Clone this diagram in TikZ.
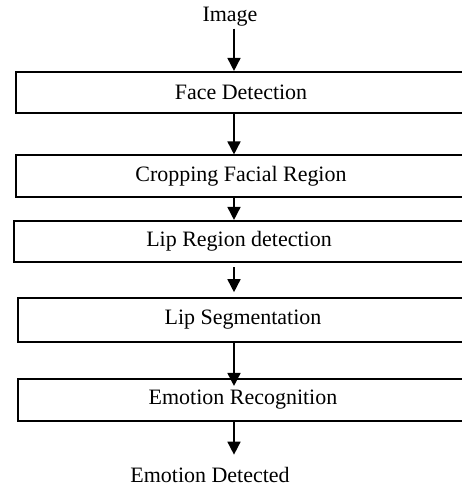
\documentclass[tikz,border=0pt]{standalone}
\usepackage{fontspec}
\setmainfont{Liberation Serif}
\usetikzlibrary{arrows.meta}

\begin{document}
\begin{tikzpicture}[
    stage/.style={draw, rectangle, line width=0.9pt, minimum width=9cm, minimum height=0.83cm, inner sep=0pt, font=\fontsize{12.5}{15}\selectfont},
    label/.style={inner sep=1pt, font=\fontsize{12.5}{15}\selectfont},
    flow/.style={-{Triangle[width=0.26cm, length=0.26cm]}, line width=0.9pt}
  ]

  % Frame of the picture
  \useasboundingbox (0,0) rectangle (9.24,9.72);
  \clip (0,0) rectangle (9.24,9.72);

  % Input and output texts
  \node[label] (image) at (4.60,9.38) {Image};
  \node[label] (detected) at (4.20,0.23) {Emotion Detected};

  % Processing stages
  \node[stage] (face) at (4.82,7.87) {Face Detection};
  \node[stage] (crop) at (4.82,6.20) {Cropping Facial Region};
  \node[stage] (lipregion) at (4.78,4.89) {Lip Region detection};
  \node[stage, minimum height=0.88cm] (lipseg) at (4.86,3.32) {Lip Segmentation};
  \node[stage] (recog) at (4.86,1.72) {Emotion Recognition};

  % Arrows down the column
  \coordinate (axis) at (4.68,0);
  \draw[flow] (image.south -| axis) -- (face.north -| axis);
  \draw[flow] (face.south -| axis) -- (crop.north -| axis);
  \draw[flow] (crop.south -| axis) -- (lipregion.north -| axis);
  \draw[flow, shorten <=0.08cm, shorten >=0.1cm] (lipregion.south -| axis) -- (lipseg.north -| axis);
  \draw[flow, shorten >=-0.15cm] (lipseg.south -| axis) -- (recog.north -| axis);
  \draw[flow, shorten >=0.2cm] (recog.south -| axis) -- (detected.north -| axis);

\end{tikzpicture}
\end{document}
